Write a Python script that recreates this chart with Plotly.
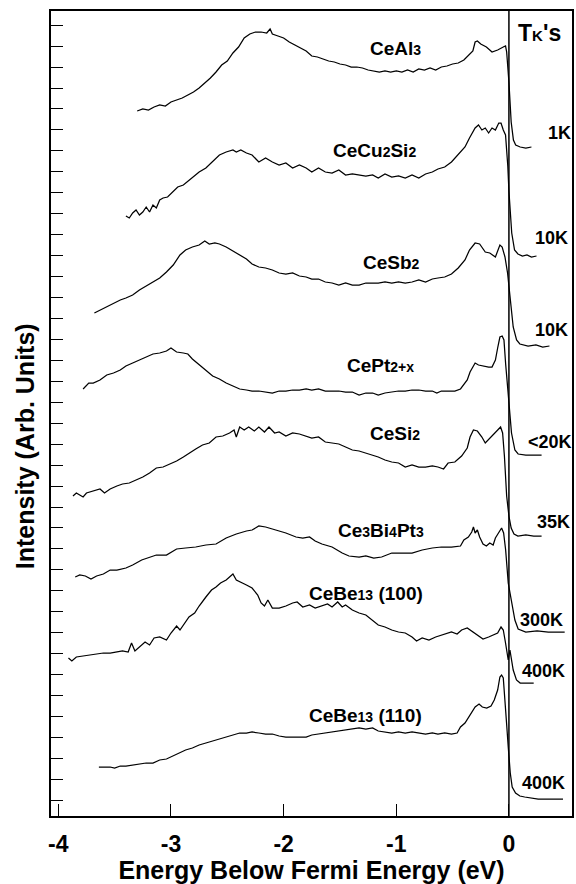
import plotly.graph_objects as go

# ---- data: energy (eV) and intensity (arb. units, vertically offset spectra) ----
ceal3_x = [-3.30,-3.25,-3.20,-3.15,-3.10,-3.05,-3.00,-2.95,-2.90,-2.85,
           -2.80,-2.75,-2.70,-2.65,-2.60,-2.55,-2.50,-2.45,-2.40,-2.35,
           -2.30,-2.25,-2.20,-2.15,-2.12,-2.10,-2.05,-2.00,-1.95,-1.90,
           -1.85,-1.80,-1.75,-1.70,-1.65,-1.60,-1.55,-1.50,-1.45,-1.40,
           -1.35,-1.30,-1.25,-1.20,-1.15,-1.10,-1.05,-1.00,-0.95,-0.90,
           -0.85,-0.80,-0.75,-0.70,-0.65,-0.60,-0.55,-0.50,-0.45,-0.40,
           -0.35,-0.32,-0.30,-0.28,-0.25,-0.20,-0.15,-0.12,-0.10,-0.05,
           -0.03,-0.02,0.00,0.02,0.04,0.06,0.10,0.15,0.20]
ceal3_y = [705,707,706,709,711,710,714,716,718,721,
           724,728,733,738,744,751,755,763,769,778,
           782,784,784,783,787,782,780,778,774,771,
           768,765,760,759,757,755,754,752,751,749,
           749,748,746,745,744,745,744,745,744,746,
           744,747,746,748,746,749,750,752,753,756,
           761,765,774,775,772,769,764,765,766,769,
           770,764,734,694,676,671,669,668,669]

cecu2si2_x = [-3.40,-3.37,-3.34,-3.31,-3.28,-3.25,-3.22,-3.19,-3.16,-3.13,
              -3.10,-3.07,-3.03,-2.98,-2.94,-2.89,-2.87,-2.82,-2.78,-2.75,
              -2.69,-2.63,-2.57,-2.51,-2.45,-2.42,-2.38,-2.33,-2.28,-2.22,
              -2.16,-2.10,-2.04,-1.98,-1.92,-1.86,-1.80,-1.75,-1.69,-1.63,
              -1.57,-1.51,-1.45,-1.39,-1.33,-1.27,-1.21,-1.16,-1.10,-1.04,
              -0.98,-0.92,-0.86,-0.80,-0.74,-0.68,-0.63,-0.57,-0.51,-0.45,
              -0.39,-0.35,-0.30,-0.27,-0.24,-0.21,-0.18,-0.15,-0.12,-0.09,
              -0.07,-0.05,-0.03,-0.01,0.00,0.025,0.05,0.08,0.12,0.16,
              0.20,0.245]
cecu2si2_y = [600,598,603,606,601,604,609,604,611,608,
              616,618,619,624,629,631,633,638,641,644,
              648,654,661,664,666,664,666,663,661,654,
              658,654,651,653,648,651,648,644,648,644,
              643,646,641,642,641,640,641,638,642,639,
              640,638,641,638,642,644,647,649,654,661,
              669,678,688,691,686,688,683,688,686,693,
              693,686,681,650,625,583,566,562,560,561,
              559,560]

cesb2_x = [-3.68,-3.63,-3.57,-3.51,-3.45,-3.40,-3.34,-3.28,-3.22,-3.16,
           -3.10,-3.04,-2.98,-2.92,-2.87,-2.81,-2.75,-2.70,-2.66,-2.61,
           -2.57,-2.51,-2.45,-2.39,-2.33,-2.28,-2.22,-2.16,-2.10,-2.04,
           -1.98,-1.92,-1.86,-1.80,-1.75,-1.69,-1.63,-1.57,-1.51,-1.45,
           -1.39,-1.33,-1.27,-1.21,-1.16,-1.10,-1.04,-0.98,-0.92,-0.86,
           -0.80,-0.74,-0.68,-0.63,-0.57,-0.51,-0.45,-0.39,-0.35,-0.30,
           -0.26,-0.21,-0.17,-0.12,-0.08,-0.06,-0.035,-0.012,0.012,0.038,
           0.068,0.097,0.17,0.24,0.30,0.36]
cesb2_y = [503,506,509,513,516,518,521,526,530,534,
           538,544,551,561,566,569,571,575,572,573,
           572,569,565,561,557,552,549,548,546,543,
           542,543,540,539,537,537,534,533,531,533,
           531,531,533,533,533,534,533,534,533,534,
           536,534,537,538,539,542,548,556,566,573,
           572,564,563,559,571,569,559,543,516,489,
           476,472,470,471,469,470]

cept_x = [-3.78,-3.73,-3.69,-3.63,-3.57,-3.51,-3.45,-3.40,-3.34,-3.28,
          -3.22,-3.16,-3.10,-3.04,-3.00,-2.95,-2.89,-2.85,-2.81,-2.75,
          -2.69,-2.63,-2.57,-2.51,-2.45,-2.39,-2.33,-2.28,-2.22,-2.16,
          -2.10,-2.04,-1.98,-1.92,-1.86,-1.80,-1.75,-1.69,-1.63,-1.57,
          -1.51,-1.45,-1.39,-1.33,-1.27,-1.21,-1.16,-1.10,-1.04,-0.98,
          -0.92,-0.86,-0.80,-0.74,-0.68,-0.64,-0.60,-0.54,-0.48,-0.43,
          -0.40,-0.37,-0.345,-0.30,-0.27,-0.23,-0.18,-0.15,-0.12,-0.10,
          -0.08,-0.06,-0.044,-0.029,-0.012,0.00,0.023,0.053,0.082,0.15,
          0.22,0.29]
cept_y = [427,433,433,436,441,443,446,450,453,456,
          459,462,463,465,468,464,463,462,457,451,
          445,440,437,433,430,427,426,425,425,424,
          423,425,425,426,426,427,426,427,425,425,
          425,424,424,421,423,423,421,423,424,425,
          425,426,426,425,425,423,425,425,425,427,
          431,436,444,453,451,450,449,449,456,468,
          479,480,476,452,428,416,383,366,362,361,
          361,361]

cesi2_x = [-3.87,-3.84,-3.81,-3.78,-3.75,-3.69,-3.63,-3.59,-3.54,-3.48,
           -3.43,-3.37,-3.31,-3.25,-3.19,-3.13,-3.07,-3.01,-2.95,-2.89,
           -2.84,-2.78,-2.72,-2.66,-2.60,-2.54,-2.48,-2.44,-2.42,-2.39,
           -2.35,-2.31,-2.26,-2.22,-2.17,-2.13,-2.08,-2.04,-1.98,-1.92,
           -1.86,-1.80,-1.75,-1.69,-1.63,-1.57,-1.51,-1.45,-1.39,-1.33,
           -1.27,-1.21,-1.16,-1.10,-1.04,-0.98,-0.92,-0.86,-0.80,-0.74,
           -0.68,-0.63,-0.58,-0.54,-0.48,-0.42,-0.37,-0.345,-0.315,-0.28,
           -0.24,-0.21,-0.17,-0.12,-0.09,-0.074,-0.056,-0.04,-0.02,0.00,
           0.02,0.045,0.08,0.15,0.22,0.29]
cesi2_y = [320,323,321,319,323,325,327,323,327,330,
           332,333,336,339,343,348,349,352,355,359,
           363,367,371,373,379,380,383,386,379,389,
           386,389,385,389,384,389,383,384,380,383,
           382,380,378,379,374,373,372,369,366,365,
           363,361,359,356,354,353,349,351,349,349,
           350,349,347,353,354,360,368,379,386,385,
           379,373,378,384,387,389,383,360,320,300,
           288,282,280,281,280,280]

ce3bi4pt3_x = [-3.85,-3.81,-3.76,-3.71,-3.66,-3.60,-3.54,-3.48,-3.40,-3.34,
               -3.26,-3.20,-3.13,-3.04,-2.95,-2.87,-2.78,-2.69,-2.60,-2.51,
               -2.42,-2.33,-2.28,-2.22,-2.16,-2.07,-1.98,-1.89,-1.83,-1.77,
               -1.72,-1.66,-1.57,-1.48,-1.42,-1.33,-1.27,-1.20,-1.13,-1.04,
               -0.95,-0.86,-0.77,-0.68,-0.60,-0.51,-0.43,-0.40,-0.36,-0.33,
               -0.315,-0.30,-0.28,-0.26,-0.23,-0.20,-0.17,-0.14,-0.12,-0.09,
               -0.065,-0.047,-0.029,-0.006,0.023,0.053,0.082,0.15,0.25,0.35,
               0.43,0.495]
ce3bi4pt3_y = [239,241,240,237,240,242,246,246,248,251,
               256,258,261,261,267,268,269,271,272,278,
               282,285,286,290,289,286,283,279,278,279,
               275,272,269,263,260,259,260,258,259,263,
               263,263,266,268,269,269,270,276,279,284,
               289,283,286,279,272,270,273,271,278,284,
               288,283,266,233,216,196,187,184,185,184,
               184,184]

cebe13_100_x = [-3.91,-3.88,-3.84,-3.78,-3.72,-3.66,-3.60,-3.54,-3.48,-3.43,
                -3.38,-3.35,-3.32,-3.28,-3.23,-3.19,-3.15,-3.10,-3.04,-3.00,
                -2.95,-2.92,-2.88,-2.84,-2.79,-2.75,-2.69,-2.64,-2.60,-2.56,
                -2.51,-2.48,-2.45,-2.42,-2.38,-2.33,-2.28,-2.23,-2.20,-2.17,
                -2.14,-2.10,-2.04,-1.98,-1.92,-1.88,-1.83,-1.77,-1.72,-1.66,
                -1.61,-1.57,-1.52,-1.48,-1.45,-1.39,-1.33,-1.27,-1.21,-1.16,
                -1.10,-1.04,-0.98,-0.92,-0.86,-0.82,-0.77,-0.71,-0.65,-0.60,
                -0.55,-0.51,-0.46,-0.42,-0.37,-0.33,-0.30,-0.27,-0.23,-0.18,
                -0.14,-0.10,-0.07,-0.05,-0.03,-0.006,0.009,0.038,0.067,0.10,
                0.16,0.22]
cebe13_100_y = [158,155,159,160,161,162,163,163,164,165,
                164,173,165,169,174,171,178,179,176,183,
                190,186,193,199,203,210,219,226,229,233,
                236,239,242,236,234,231,228,221,213,210,
                216,208,208,210,213,214,209,211,208,210,
                212,209,214,209,211,206,203,201,196,191,
                189,186,184,183,179,175,178,176,179,181,
                183,184,182,186,188,185,182,180,177,179,
                181,183,189,186,173,156,166,146,136,133,
                133,133]

cebe13_110_x = [-3.64,-3.59,-3.54,-3.50,-3.45,-3.40,-3.34,-3.28,-3.22,-3.16,
                -3.10,-3.04,-2.98,-2.92,-2.87,-2.81,-2.75,-2.69,-2.63,-2.57,
                -2.51,-2.45,-2.39,-2.33,-2.28,-2.22,-2.16,-2.10,-2.04,-1.98,
                -1.92,-1.86,-1.80,-1.75,-1.69,-1.63,-1.57,-1.51,-1.45,-1.39,
                -1.33,-1.27,-1.21,-1.16,-1.10,-1.04,-0.98,-0.92,-0.86,-0.80,
                -0.74,-0.68,-0.63,-0.57,-0.51,-0.46,-0.43,-0.39,-0.345,-0.30,
                -0.265,-0.236,-0.197,-0.159,-0.13,-0.10,-0.08,-0.065,-0.05,-0.035,
                -0.021,-0.006,0.012,0.029,0.059,0.097,0.14,0.26,0.38,0.48]
cebe13_110_y = [49,49,49,48,50,50,51,52,53,53,
                56,57,60,63,66,68,71,73,75,77,
                79,81,83,83,84,83,82,82,80,79,
                79,79,79,81,82,83,84,85,86,87,
                88,87,88,85,84,83,84,83,84,83,
                82,83,82,83,82,83,89,93,101,109,
                112,109,108,110,116,126,139,141,138,119,
                93,69,43,29,23,20,19,17,17,17]

# small baseline-aligned index digits, as in the original figure
def small(s):
    return '<span style="font-size:14px">' + s + '</span>'

compound_labels = ["CeAl" + small("3"),
                   "CeCu" + small("2") + "Si" + small("2"),
                   "CeSb" + small("2"),
                   "CePt" + small("2+x"),
                   "CeSi" + small("2"),
                   "Ce" + small("3") + "Bi" + small("4") + "Pt" + small("3"),
                   "CeBe" + small("13") + " (100)",
                   "CeBe" + small("13") + " (110)"]
tk_labels = ["1K", "10K", "10K", "<20K", "35K", "300K", "400K", "400K"]
x_tick_vals = [-4, -3, -2, -1, 0]
x_tick_text = ["-4", "-3", "-2", "-1", "0"]

series = [(ceal3_x, ceal3_y), (cecu2si2_x, cecu2si2_y), (cesb2_x, cesb2_y),
          (cept_x, cept_y), (cesi2_x, cesi2_y), (ce3bi4pt3_x, ce3bi4pt3_y),
          (cebe13_100_x, cebe13_100_y), (cebe13_110_x, cebe13_110_y)]

# label positions (layout only)
label_pos = [(-1.01, 768), (-1.19, 666), (-1.04, 554), (-1.14, 451),
             (-1.01, 383), (-1.14, 286), (-1.27, 223), (-1.27, 101)]
tk_pos = [(0.451, 683), (0.374, 578), (0.374, 486), (0.363, 374),
          (0.392, 294), (0.288, 196), (0.303, 145), (0.303, 33)]

FONT = "Liberation Sans, Arial, Helvetica, sans-serif"

fig = go.Figure()
for xs, ys in series:
    fig.add_trace(go.Scatter(x=xs, y=ys, mode="lines",
                             line=dict(color="black", width=1.25),
                             showlegend=False, hoverinfo="skip"))

for txt, (lx, ly) in zip(compound_labels, label_pos):
    fig.add_annotation(x=lx, y=ly, text=txt, showarrow=False,
                       font=dict(family=FONT, size=19, color="black", weight="bold"),
                       xanchor="center", yanchor="middle")

for txt, (lx, ly) in zip(tk_labels, tk_pos):
    fig.add_annotation(x=lx, y=ly, text=txt, showarrow=False,
                       font=dict(family=FONT, size=18, color="black", weight="bold"),
                       xanchor="center", yanchor="middle")

fig.add_annotation(x=0.274, y=783,
                   text='T<span style="font-size:15px">K</span>\'s',
                   showarrow=False,
                   font=dict(family=FONT, size=23, color="black", weight="bold"),
                   xanchor="center", yanchor="middle")

# y-axis title placed as a rotated annotation
fig.add_annotation(x=-0.0505, y=0.459, xref="paper", yref="paper",
                   text="Intensity (Arb. Units)", textangle=-90, showarrow=False,
                   font=dict(family=FONT, size=25, color="black", weight="bold"),
                   xanchor="center", yanchor="middle")

# Fermi level line
fig.add_shape(type="line", x0=0, x1=0, y0=0, y1=1, xref="x", yref="paper",
              line=dict(color="black", width=1.5))

fig.update_layout(
    width=576, height=884,
    margin=dict(l=51, r=2, t=11, b=68),
    paper_bgcolor="white", plot_bgcolor="white",
    font=dict(family=FONT, color="black"),
)
fig.update_xaxes(range=[-4.065, 0.56], showgrid=False, zeroline=False,
                 showline=True, linecolor="black", linewidth=1.5, mirror=True,
                 ticks="inside", ticklen=12, tickwidth=1.3, tickcolor="black",
                 tickvals=x_tick_vals, ticktext=x_tick_text,
                 ticklabelstandoff=7,
                 tickfont=dict(family=FONT, size=23, weight="bold"),
                 title=dict(text="Energy Below Fermi Energy (eV)",
                            font=dict(family=FONT, size=25, weight="bold"),
                            standoff=1))
fig.update_yaxes(range=[0, 805], showgrid=False, zeroline=False,
                 showline=True, linecolor="black", linewidth=1.5, mirror=True,
                 ticks="inside", ticklen=12, tickwidth=1.3, tickcolor="black",
                 tick0=15.7, dtick=20.95, showticklabels=False)

fig.write_html("out.html")
